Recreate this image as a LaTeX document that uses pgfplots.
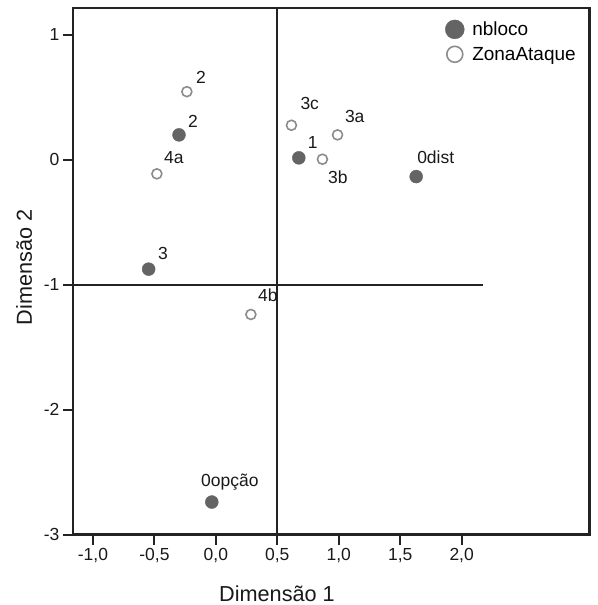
\documentclass[border=0pt]{standalone}
\usepackage{pgfplots}
\pgfplotsset{compat=1.18}
\usepackage{fontspec}
\setmainfont{Liberation Sans}
\definecolor{fillc}{RGB}{100,100,100}
\definecolor{openc}{RGB}{140,140,140}
\definecolor{framec}{RGB}{35,35,35}
\begin{document}
\begin{tikzpicture}
\begin{axis}[
  at={(0pt,0pt)}, anchor=south west,
  width=517pt, height=527pt, scale only axis,
  xmin=-1.163, xmax=3.04, ymin=-3, ymax=1.216,
  axis line style={framec, line width=2.2pt},
  xtick={-1,-0.5,0,0.5,1,1.5,2},
  ytick={-3,-2,-1,0,1},
  xtick pos=bottom, ytick pos=left,
  tick align=outside, major tick length=10pt,
  tick style={framec, line width=2pt},
  /pgf/number format/assume math mode=true,
  xticklabel style={/pgf/number format/.cd, fixed, fixed zerofill, precision=1, use comma},
  ticklabel style={font=\fontsize{17.5}{20}\selectfont, text=black!90},
  xlabel={Dimensão 1}, ylabel={Dimensão 2},
  label style={font=\fontsize{21.7}{25}\selectfont, text=black!90},
  xlabel style={at={(axis description cs:0.395,0)}, anchor=base, yshift=-67pt},
  ylabel style={at={(axis description cs:-0.0793,0.507)}, anchor=base},
  legend image code/.code={\draw[#1] plot coordinates {(0pt,0pt)};},
  legend style={at={(axis description cs:0.7205,0.978)}, anchor=north west, draw=none, fill=none,
    font=\fontsize{19}{22}\selectfont, row sep=6pt, column sep=6pt, inner sep=0pt},
  legend cell align=left,
]
\addplot[framec, line width=2.2pt, forget plot] coordinates {(0.5,-3) (0.5,1.216)};
\addplot[framec, line width=2.2pt, forget plot] coordinates {(-1.163,-1) (2.17,-1)};
\addplot[only marks, mark=*, mark size=6.5pt, mark options={fill=fillc, draw=fillc},
  legend image post style={mark size=9.5pt}] coordinates {
  (-0.30,0.20) (-0.547,-0.875) (0.675,0.016) (1.63,-0.134) (-0.033,-2.74)};
\addlegendentry{nbloco}
\addplot[only marks, mark=o, mark size=5pt, mark options={draw=openc, fill=white, line width=1.6pt},
  legend image post style={mark size=8pt}] coordinates {
  (-0.236,0.546) (-0.48,-0.112) (0.615,0.277) (0.99,0.20) (0.867,0.005) (0.285,-1.238)};
\addlegendentry{ZonaAtaque}
\begin{scope}[every node/.style={font=\fontsize{17.5}{20}\selectfont, text=black!90, inner sep=0pt}]
\node at (axis cs:-0.122,0.664) {2};
\node at (axis cs:-0.341,0.016) {4a};
\node at (axis cs:0.764,0.448) {3c};
\node at (axis cs:1.13,0.344) {3a};
\node at (axis cs:0.992,-0.136) {3b};
\node at (axis cs:0.789,0.136) {1};
\node at (axis cs:1.789,0.024) {0dist};
\node at (axis cs:-0.431,-0.752) {3};
\node at (axis cs:0.423,-1.088) {4b};
\node at (axis cs:0.114,-2.584) {0opção};
\node at (axis cs:-0.187,0.304) {2};
\end{scope}
\end{axis}
\path (-73pt,-70pt) rectangle (525pt,535pt);
\end{tikzpicture}
\end{document}
